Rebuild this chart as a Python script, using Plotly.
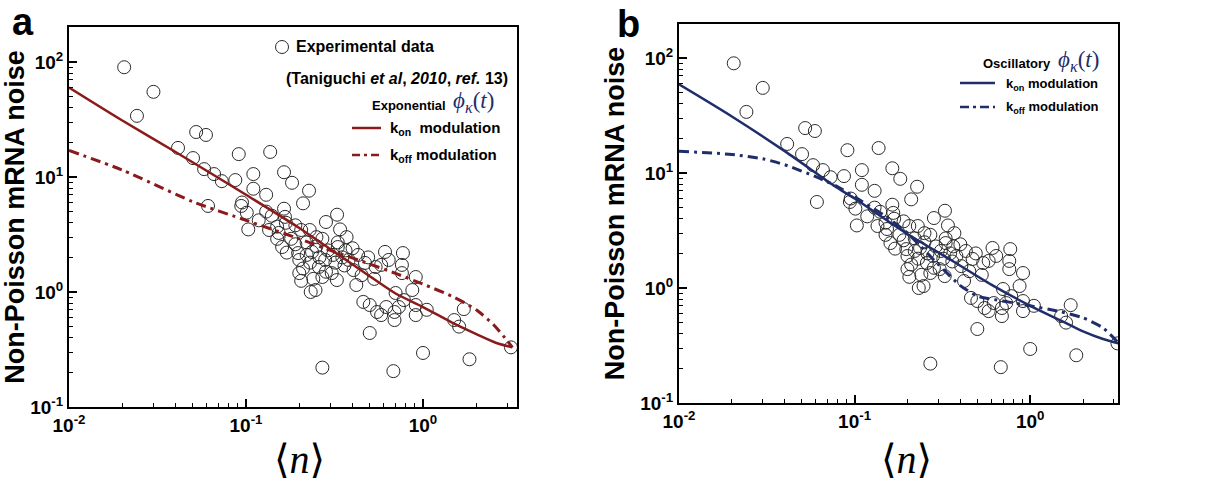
import plotly.graph_objects as go

W, H = 1214, 482

# ---------------- data ----------------
n_exp = [0.0205, 0.030, 0.0242, 0.0413, 0.0523, 0.0594, 0.0502, 0.058, 0.066, 0.073,
         0.061, 0.087, 0.091, 0.110, 0.110, 0.130, 0.137, 0.164, 0.182, 0.227,
         0.210, 0.095, 0.094, 0.101, 0.118, 0.130, 0.140, 0.164, 0.166, 0.168,
         0.103, 0.135, 0.153, 0.205, 0.229, 0.283, 0.327, 0.340, 0.370, 0.160,
         0.197, 0.200, 0.200, 0.205, 0.232, 0.247, 0.236, 0.258, 0.283, 0.305,
         0.326, 0.330, 0.380, 0.405, 0.420, 0.365, 0.470, 0.490, 0.540, 0.610,
         0.580, 0.770, 0.760, 0.760, 0.910, 0.870, 0.460, 0.500, 0.550, 0.580,
         0.620, 0.700, 0.690, 0.690, 0.730, 0.780, 0.910, 0.910, 1.050, 0.500,
         0.270, 0.680, 1.000, 1.830, 1.500, 1.600, 1.700, 3.140,
         0.180, 0.220, 0.250, 0.270, 0.290, 0.310, 0.350, 0.260, 0.220, 0.190,
         0.430, 0.450, 0.320, 0.240, 0.270, 0.640, 0.530, 0.150,
         0.170, 0.210, 0.230, 0.280, 0.330, 0.360, 0.400, 0.150, 0.190, 0.250]
noise_exp = [90, 55, 34, 17.9, 24.6, 23.2, 14.6, 11.7, 10.6, 9.2,
             5.6, 9.4, 15.8, 10.6, 7.9, 7.0, 16.5, 11.0, 8.9, 7.6,
             5.9, 6.0, 5.6, 4.9, 4.2, 5.0, 4.6, 5.3, 4.5, 4.0,
             3.5, 3.46, 3.26, 3.46, 3.46, 4.06, 4.7, 3.5, 3.0, 2.46,
             2.18, 1.9, 1.46, 1.25, 1.0, 1.04, 2.23, 1.65, 1.5, 1.46,
             1.27, 2.46, 1.9, 1.55, 1.15, 2.3, 1.79, 2.0, 1.65, 2.23,
             1.72, 2.18, 1.72, 1.46, 1.35, 1.04, 0.82, 0.77, 0.67, 0.63,
             0.74, 0.98, 0.67, 0.57, 0.74, 0.85, 0.77, 0.63, 0.70, 0.44,
             0.22, 0.205, 0.295, 0.26, 0.57, 0.50, 0.71, 0.33,
             2.9, 2.7, 2.5, 2.9, 2.3, 2.1, 2.0, 2.0, 2.1, 2.6,
             2.1, 1.4, 1.8, 1.3, 1.35, 1.9, 1.3, 2.9,
             2.2, 1.6, 1.8, 1.9, 2.7, 1.7, 2.4, 3.7, 3.8, 3.0]

# panel a: exponential kernel
n_a_kon = [0.01, 0.02, 0.04, 0.07, 0.1, 0.2, 0.3, 0.5, 0.7, 1.0, 1.5, 2.0, 2.6, 3.2]
a_kon = [60, 31, 16.5, 9.8, 7.0, 3.6, 2.35, 1.37, 0.97, 0.74, 0.53, 0.43, 0.36, 0.33]
n_a_koff = [0.01, 0.02, 0.05, 0.1, 0.2, 0.3, 0.5, 0.7, 1.0, 1.5, 2.0, 2.5, 2.9, 3.2]
a_koff = [17, 11.5, 6.1, 4.2, 2.9, 2.3, 1.75, 1.45, 1.17, 0.9, 0.7, 0.52, 0.40, 0.33]

# panel b: oscillatory kernel
n_b_kon = [0.01, 0.02, 0.04, 0.08, 0.1, 0.2, 0.35, 0.6, 1.0, 1.5, 2.0, 2.6, 3.2]
b_kon = [59, 31, 15.5, 7.4, 6.0, 2.95, 1.77, 1.07, 0.70, 0.52, 0.42, 0.36, 0.33]
n_b_koff = [0.01, 0.02, 0.03, 0.04, 0.06, 0.08, 0.1, 0.15, 0.2, 0.3, 0.4, 0.5, 0.7,
            1.0, 1.5, 2.0, 2.6, 3.2]
b_koff = [15.5, 14.5, 13.3, 11.8, 9.3, 7.6, 6.2, 4.2, 3.0, 1.6, 1.05, 0.85, 0.77,
          0.70, 0.62, 0.55, 0.45, 0.33]

x_tickvals = [0.01, 0.1, 1]
x_ticktext = ["10<sup>-2</sup>", "10<sup>-1</sup>", "10<sup>0</sup>"]
y_tickvals = [0.1, 1, 10, 100]
y_ticktext = ["10<sup>-1</sup>", "10<sup>0</sup>", "10<sup>1</sup>", "10<sup>2</sup>"]

RED = "#8b1a1a"
NAVY = "#1f2d6b"
FONT = "Liberation Sans, Arial, sans-serif"
SERIF = "Liberation Serif, DejaVu Serif, serif"
DASHDOT = "10px,5px,3px,5px"

x_minor = [m * 10 ** e for e in (-2, -1, 0) for m in range(2, 10)]
x_minor = [v for v in x_minor if v < 3.4]
y_minor = [m * 10 ** e for e in (-1, 0, 1) for m in range(2, 10)]

fig = go.Figure()

for xa, ya, (nk, yk, nf, yf, col) in [
    ("x", "y", (n_a_kon, a_kon, n_a_koff, a_koff, RED)),
    ("x2", "y2", (n_b_kon, b_kon, n_b_koff, b_koff, NAVY)),
]:
    fig.add_trace(go.Scatter(x=n_exp, y=noise_exp, mode="markers", xaxis=xa, yaxis=ya,
                             marker=dict(symbol="circle-open", size=13,
                                         color="#2a2a2a", line=dict(width=1)),
                             showlegend=False))
    fig.add_trace(go.Scatter(x=nk, y=yk, mode="lines", xaxis=xa, yaxis=ya,
                             line=dict(color=col, width=2.5, shape="spline", smoothing=0.8),
                             showlegend=False))
    fig.add_trace(go.Scatter(x=nf, y=yf, mode="lines", xaxis=xa, yaxis=ya,
                             line=dict(color=col, width=3, dash=DASHDOT,
                                       shape="spline", smoothing=0.6),
                             showlegend=False))

def px(x):
    return x / W

def py(y):
    return 1 - y / H

axis_common = dict(type="log", showgrid=False, zeroline=False, showline=True,
                   linecolor="black", linewidth=2, mirror=True, ticks="inside",
                   ticklen=8, tickwidth=1.5, tickcolor="black", automargin=False,
                   tickfont=dict(family=FONT, size=19, color="black", weight="bold"))

xa_common = dict(axis_common, tickmode="array", tickvals=x_tickvals, ticktext=x_ticktext,
                 minor=dict(tickmode="array", tickvals=x_minor, ticks="inside",
                            ticklen=4, tickwidth=1.2, tickcolor="black", showgrid=False))
ya_common = dict(axis_common, tickmode="array", tickvals=y_tickvals, ticktext=y_ticktext,
                 minor=dict(tickmode="array", tickvals=y_minor, ticks="inside",
                            ticklen=4, tickwidth=1.2, tickcolor="black", showgrid=False),
                 title=dict(text="<b>Non-Poisson mRNA noise</b>", standoff=8,
                            font=dict(family=FONT, size=27, color="black")))

fig.update_layout(
    width=W, height=H, margin=dict(l=0, r=0, t=0, b=0, autoexpand=False),
    paper_bgcolor="white", plot_bgcolor="white",
    xaxis=dict(xa_common, domain=[px(69), px(517)], range=[-2, 0.531], anchor="y"),
    yaxis=dict(ya_common, domain=[py(407), py(27)], range=[-1, 2.304], anchor="x"),
    xaxis2=dict(xa_common, domain=[px(679), px(1118)], range=[-2, 0.50], anchor="y2"),
    yaxis2=dict(ya_common, domain=[py(403), py(24)], range=[-1, 2.296], anchor="x2"),
)

ann = []
def text(x, y, t, size, xanchor="left", family=FONT, color="black"):
    ann.append(dict(x=px(x), y=py(y), xref="paper", yref="paper", text=t, showarrow=False,
                    xanchor=xanchor, yanchor="middle",
                    font=dict(family=family, size=size, color=color)))

# panel letters
text(23, 22, "<b>a</b>", 38, "center")
text(628, 24, "<b>b</b>", 38, "center")
# x titles
text(299, 459, "⟨<i>n</i>⟩", 40, "center", family=SERIF)
text(906, 459, "⟨<i>n</i>⟩", 40, "center", family=SERIF)

# legend panel a
text(294, 47, "<b>Experimental data</b>", 16)
text(510, 79, "<b>(Taniguchi <i>et al</i>, <i>2010</i>, <i>ref.</i> 13)</b>", 16, "right")
text(448, 105, "<b>Exponential</b>", 13, "right")
text(451, 102, "<i>ϕ<sub>κ</sub></i>(<i>t</i>)", 23, family=SERIF, color=NAVY)
text(388, 129, "<b>k<sub>on</sub>  modulation</b>", 15)
text(388, 156, "<b>k<sub>off</sub> modulation</b>", 15)

# legend panel b
text(1053, 64, "<b>Oscillatory</b>", 13, "right")
text(1056, 61, "<i>ϕ<sub>κ</sub></i>(<i>t</i>)", 23, family=SERIF, color=NAVY)
text(1004, 84, "<b>k<sub>on</sub> modulation</b>", 13)
text(1004, 108, "<b>k<sub>off</sub> modulation</b>", 13)

fig.update_layout(annotations=ann)

shapes = [
    dict(type="circle", xref="paper", yref="paper", xsizemode="pixel", ysizemode="pixel",
         xanchor=px(282), yanchor=py(47), x0=-6.5, x1=6.5, y0=-6.5, y1=6.5,
         line=dict(color="#2a2a2a", width=1)),
    dict(type="line", xref="paper", yref="paper", x0=px(352), x1=px(381), y0=py(128), y1=py(128),
         line=dict(color=RED, width=2.5)),
    dict(type="line", xref="paper", yref="paper", x0=px(352), x1=px(381), y0=py(155), y1=py(155),
         line=dict(color=RED, width=2.5, dash="8px,4px,3px,4px")),
    dict(type="line", xref="paper", yref="paper", x0=px(960), x1=px(995), y0=py(83), y1=py(83),
         line=dict(color=NAVY, width=2.5)),
    dict(type="line", xref="paper", yref="paper", x0=px(960), x1=px(995), y0=py(107), y1=py(107),
         line=dict(color=NAVY, width=2.5, dash="9px,4px,3px,4px")),
]
fig.update_layout(shapes=shapes)

fig.write_html("out.html")
